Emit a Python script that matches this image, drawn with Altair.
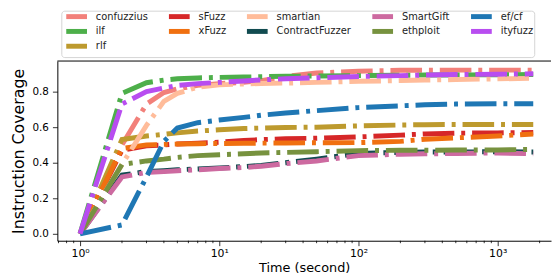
import altair as alt
import pandas as pd

# Plot order (as drawn)
tools = ["confuzzius", "ilf", "rlf", "sFuzz", "xFuzz", "smartian",
         "ContractFuzzer", "SmartGift", "ethploit", "ef/cf", "ityfuzz"]
colors = {
    "confuzzius": "#F2807A", "ilf": "#4DAF4A", "rlf": "#BD9A2E",
    "sFuzz": "#D62728", "xFuzz": "#F07010", "smartian": "#FFBC9A",
    "ContractFuzzer": "#114B50", "SmartGift": "#CD6AA0", "ethploit": "#77923F",
    "ef/cf": "#1F77B4", "ityfuzz": "#B84DF0",
}
# legend order laid out row-major to mimic matplotlib's column-major 5-column legend
legend_order = ["confuzzius", "sFuzz", "smartian", "SmartGift", "ef/cf",
                "ilf", "xFuzz", "ContractFuzzer", "ethploit", "ityfuzz",
                "rlf"]

times = [1, 2, 3, 4, 5, 7, 10, 15, 20, 30, 50, 100, 200, 300, 500, 1000, 1800]

confuzzius = [0, 0.50, 0.73, 0.795, 0.815, 0.835, 0.845, 0.852, 0.862, 0.885, 0.905, 0.915, 0.92, 0.92, 0.921, 0.921, 0.921]
ilf = [0, 0.79, 0.85, 0.865, 0.872, 0.877, 0.880, 0.882, 0.884, 0.886, 0.888, 0.890, 0.892, 0.893, 0.894, 0.895, 0.896]
rlf = [0, 0.53, 0.55, 0.56, 0.568, 0.578, 0.585, 0.592, 0.595, 0.598, 0.600, 0.607, 0.612, 0.614, 0.615, 0.615, 0.615]
sFuzz = [0, 0.47, 0.495, 0.50, 0.505, 0.51, 0.515, 0.525, 0.53, 0.535, 0.538, 0.545, 0.555, 0.562, 0.566, 0.568, 0.57]
xFuzz = [0, 0.48, 0.50, 0.503, 0.505, 0.507, 0.508, 0.509, 0.51, 0.511, 0.512, 0.513, 0.52, 0.532, 0.54, 0.55, 0.562]
smartian = [0, 0.39, 0.61, 0.745, 0.79, 0.825, 0.838, 0.843, 0.846, 0.848, 0.852, 0.858, 0.862, 0.865, 0.868, 0.872, 0.875]
contractfuzzer = [0, 0.33, 0.35, 0.355, 0.36, 0.365, 0.37, 0.378, 0.385, 0.40, 0.42, 0.452, 0.458, 0.46, 0.46, 0.462, 0.46]
smartgift = [0, 0.32, 0.345, 0.35, 0.355, 0.36, 0.367, 0.373, 0.38, 0.395, 0.41, 0.44, 0.448, 0.45, 0.452, 0.455, 0.45]
ethploit = [0, 0.39, 0.41, 0.42, 0.43, 0.44, 0.445, 0.45, 0.455, 0.458, 0.462, 0.468, 0.47, 0.47, 0.471, 0.472, 0.475]
efcf = [0, 0.05, 0.32, 0.52, 0.595, 0.625, 0.64, 0.655, 0.667, 0.68, 0.693, 0.71, 0.72, 0.726, 0.73, 0.732, 0.732]
ityfuzz = [0, 0.73, 0.80, 0.82, 0.835, 0.845, 0.852, 0.86, 0.866, 0.872, 0.878, 0.885, 0.89, 0.893, 0.896, 0.898, 0.90]

series = [confuzzius, ilf, rlf, sFuzz, xFuzz, smartian, contractfuzzer,
          smartgift, ethploit, efcf, ityfuzz]

major_ticks = [1, 10, 100, 1000]
minor_ticks = [0.7, 0.8, 0.9] + [m * 10 ** e for e in range(0, 3) for m in range(2, 10)] + [2000]
y_ticks = [0.0, 0.2, 0.4, 0.6, 0.8]

rows = []
for i, (name, vals) in enumerate(zip(tools, series)):
    for t, v in zip(times, vals):
        rows.append({"tool": name, "time": t, "cov": v, "z": i})
df = pd.DataFrame(rows)

W, H = 500, 182
FONT = "DejaVu Sans"
xscale = alt.Scale(type="log", domain=[0.687, 2415], nice=False)
yscale = alt.Scale(domain=[-0.039, 0.972], nice=False, zero=False)
xaxis = alt.Axis(values=major_ticks, tickSize=5, labelPadding=2,
                 labelExpr="datum.value == 1 ? '10⁰' : datum.value == 10 ? '10¹' : datum.value == 100 ? '10²' : '10³'",
                 labelFontSize=11, titleFontSize=13, titlePadding=3, grid=False)

lines = alt.Chart(df).mark_line(
    strokeWidth=5, strokeDash=[32, 7, 4, 7], strokeCap="butt"
).encode(
    x=alt.X("time:Q", scale=xscale, title="Time (second)", axis=xaxis),
    y=alt.Y("cov:Q", scale=yscale, title="Instruction Coverage",
            axis=alt.Axis(values=y_ticks, format=".1f", tickSize=5, labelPadding=4,
                          labelFontSize=10.5, titleFontSize=16, titlePadding=6, grid=False)),
    color=alt.Color("tool:N",
                    scale=alt.Scale(domain=legend_order, range=[colors[t] for t in legend_order]),
                    legend=alt.Legend(title=None, orient="none", legendX=4, legendY=-51,
                                      direction="horizontal", columns=5,
                                      symbolType="M-0.667,0L13.33,0", symbolSize=9,
                                      symbolStrokeWidth=5, labelFont=FONT, labelFontSize=10,
                                      labelOffset=24, columnPadding=10, rowPadding=-5,
                                      padding=1, strokeColor="#d4d4d4", cornerRadius=3,
                                      fillColor="white", labelColor="#222222")),
    order=alt.Order("z:Q"),
    detail="tool:N",
)

minor = alt.Chart(pd.DataFrame({"time": minor_ticks})).mark_rule(color="black", strokeWidth=0.8).encode(
    x=alt.X("time:Q", scale=xscale, title="Time (second)", axis=xaxis),
    y=alt.value(H),
    y2=alt.value(H + 2.5),
)

top = alt.Chart(pd.DataFrame({"a": [0]})).mark_rule(color="black", strokeWidth=1).encode(
    y=alt.value(0)
)

chart = alt.layer(lines, minor, top).properties(
    width=W, height=H,
    padding={"left": 2, "top": 0, "right": 0, "bottom": 0},
).configure_view(stroke=None).configure_axis(
    labelFont=FONT, titleFont=FONT, labelColor="black", titleColor="black",
    domainColor="black", tickColor="black", titleFontWeight="normal",
    domainWidth=1, tickWidth=0.8,
)

chart.save("out.html", embed_options={"renderer": "svg", "actions": False})
